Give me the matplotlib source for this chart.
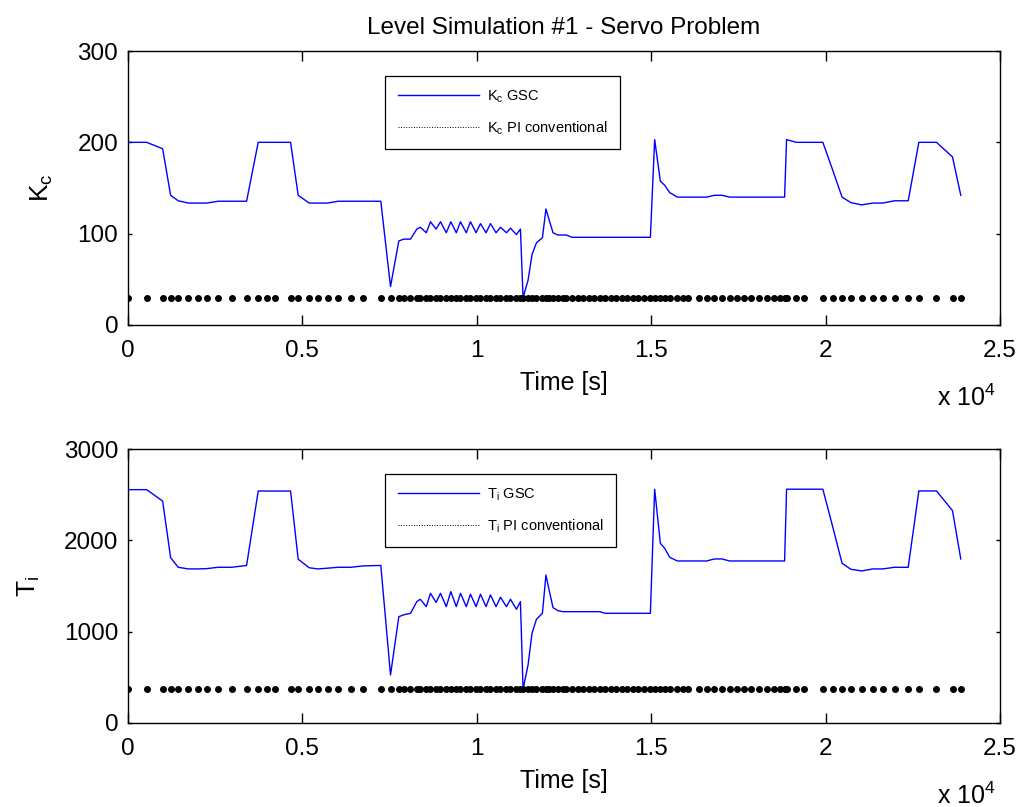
#!/usr/bin/env python3
# -*- coding: utf-8 -*-

import numpy as np
import matplotlib as mpl
mpl.use('Agg')
import matplotlib.pyplot as plt
from matplotlib.lines import Line2D

mpl.rcParams['font.family'] = ['Liberation Sans', 'DejaVu Sans']
mpl.rcParams['mathtext.fontset'] = 'custom'
mpl.rcParams['mathtext.rm'] = 'Liberation Sans'
mpl.rcParams['mathtext.it'] = 'Liberation Sans'
mpl.rcParams['axes.linewidth'] = 1.0

# simulation time samples [s]
time_s = [
    0, 536, 994, 1223, 1441, 1728, 1997, 2255, 2587, 2971,
    3401, 3734, 3991, 4212, 4662, 4880, 5195, 5436, 5722, 6026,
    6390, 6742, 7249, 7527, 7765, 7908, 8100, 8281, 8381, 8553,
    8673, 8834, 8960, 9126, 9255, 9413, 9533, 9699, 9819, 9980,
    10106, 10266, 10393, 10553, 10679, 10851, 10966, 11137, 11252, 11327,
    11470, 11584, 11711, 11882, 11983, 12083, 12186, 12329, 12464, 12570,
    12730, 12894, 13052, 13209, 13367, 13524, 13682, 13839, 13997, 14155,
    14312, 14470, 14627, 14785, 14977, 15100, 15263, 15387, 15530, 15751,
    15902, 16060, 16369, 16590, 16811, 17034, 17249, 17450, 17650, 17871,
    18089, 18309, 18524, 18682, 18825, 18882, 19160, 19384, 19922, 20200,
    20473, 20725, 21031, 21355, 21642, 21977, 22369, 22674, 23180, 23639,
    23876,
]

# gain-scheduled controller gain
kc_gsc = [
    200, 200, 193, 142, 136, 133.5, 133.5, 133.5, 135.5, 135.5,
    135.5, 200, 200, 200, 200, 142, 133.5, 133.5, 133.5, 135.5,
    135.5, 135.5, 135.5, 42, 92, 94, 94, 105, 107, 101,
    113, 105, 113, 101, 113, 101, 113, 101, 113, 101,
    111, 101, 111, 101, 107, 101, 106, 99, 105, 30,
    49, 77, 90, 95.5, 127, 114, 101, 98.5, 98.5, 98.5,
    96, 96, 96, 96, 96, 96, 96, 96, 96, 96,
    96, 96, 96, 96, 96, 203, 157.5, 153, 145, 140,
    140, 140, 140, 140, 142, 142, 140, 140, 140, 140,
    140, 140, 140, 140, 140, 203, 200, 200, 200, 170,
    140, 134, 131.5, 133.5, 133.5, 136, 136, 200, 200, 184,
    142,
]

# gain-scheduled integral time
ti_gsc = [
    2555, 2555, 2430, 1810, 1705, 1687, 1687, 1690, 1705, 1705,
    1725, 2540, 2540, 2540, 2540, 1793, 1700, 1687, 1695, 1705,
    1705, 1720, 1725, 526, 1164, 1185, 1201, 1329, 1355, 1274,
    1420, 1320, 1420, 1274, 1438, 1274, 1420, 1274, 1410, 1274,
    1410, 1274, 1402, 1274, 1377, 1274, 1355, 1245, 1329, 370,
    635, 982, 1136, 1201, 1620, 1440, 1263, 1230, 1219, 1219,
    1219, 1219, 1219, 1219, 1219, 1219, 1201, 1201, 1201, 1201,
    1201, 1201, 1201, 1201, 1201, 2560, 1968, 1913, 1815, 1774,
    1774, 1774, 1774, 1774, 1796, 1796, 1774, 1774, 1774, 1774,
    1774, 1774, 1774, 1774, 1774, 2560, 2560, 2560, 2560, 2155,
    1749, 1683, 1665, 1687, 1687, 1705, 1705, 2541, 2541, 2325,
    1796,
]

# fixed conventional PI tuning
kc_pi = 30.0
ti_pi = 370.0

x_ticks = [0, 5000, 10000, 15000, 20000, 25000]
x_tick_labels = ['0', '0.5', '1', '1.5', '2', '2.5']

BLUE = '#0000ff'


def draw_panel(ax, t, gsc, pi_value, ymax, yticks, sym, sub):
    t = np.asarray(t, dtype=float)
    ax.plot(t, gsc, color=BLUE, lw=1.0)
    ax.plot(t, np.full_like(t, pi_value), ls='none', marker='o',
            ms=4.0, mfc='k', mec='k', color='k')

    ax.set_xlim(0, 25000)
    ax.set_ylim(0, ymax)
    ax.set_xticks(x_ticks)
    ax.set_xticklabels(x_tick_labels)
    ax.set_yticks(yticks)
    ax.tick_params(axis='both', direction='in', top=True, right=True,
                   labelsize=17.5, width=1.0, colors='k')
    ax.tick_params(axis='x', length=7, pad=11)
    ax.tick_params(axis='y', length=3, pad=7)

    ax.set_xlabel('Time [s]', fontsize=18, labelpad=6)
    ax.set_ylabel(sym + r'$_\mathregular{' + sub + '}$', fontsize=19,
                  labelpad=16)
    ax.text(0.928, -0.265, r'x 10$^\mathregular{4}$', transform=ax.transAxes,
            fontsize=18, va='center', ha='left')

    handles = [Line2D([], [], color=BLUE, lw=1.0),
               Line2D([], [], color='k', lw=0.7, ls=':')]
    labels = [sym + r'$_\mathregular{' + sub + '}$ GSC',
              sym + r'$_\mathregular{' + sub + '}$ PI conventional']
    leg = ax.legend(handles, labels, loc='upper left',
                    bbox_to_anchor=(0.295, 0.909), fontsize=10.5,
                    fancybox=False, edgecolor='k', framealpha=1,
                    handlelength=5.6, handletextpad=0.5,
                    borderpad=0.85, labelspacing=1.0, borderaxespad=0)
    leg.get_frame().set_linewidth(0.9)


def main() -> None:
    fig = plt.figure(figsize=(10.18, 8.07), dpi=100)
    ax1 = fig.add_axes([0.1257, 0.5973, 0.8566, 0.3395])
    ax2 = fig.add_axes([0.1257, 0.1041, 0.8566, 0.3395])

    draw_panel(ax1, time_s, kc_gsc, kc_pi, 300, [0, 100, 200, 300], 'K', 'c')
    draw_panel(ax2, time_s, ti_gsc, ti_pi, 3000, [0, 1000, 2000, 3000],
               'T', 'i')

    ax1.set_title('Level Simulation #1 - Servo Problem', fontsize=17.5,
                  pad=12)

    fig.savefig('out.png', dpi=100, facecolor='white')


if __name__ == '__main__':
    main()
